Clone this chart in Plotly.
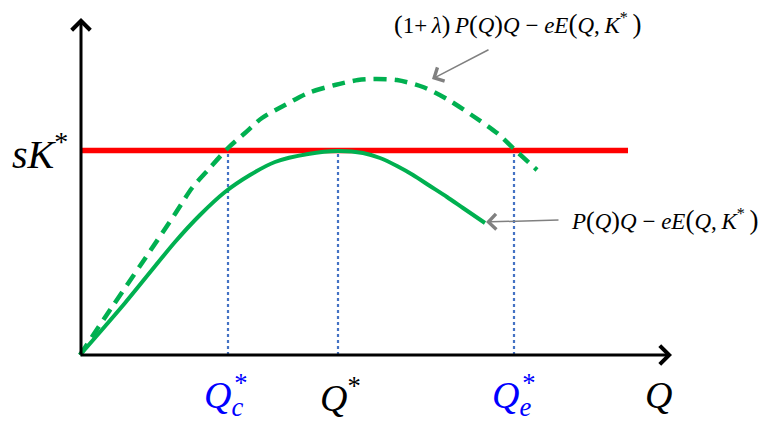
import plotly.graph_objects as go

# values (Q on the horizontal axis, profit on the vertical)
q_solid = [0, 0.45, 0.95, 1.20, 1.45, 1.70, 1.95, 2.28, 2.58, 2.83, 3.00, 3.17, 3.33, 3.50, 3.67, 3.83, 4.05]
v_solid = [0, 0.52, 1.13, 1.40, 1.63, 1.80, 1.93, 2.01, 2.04, 2.02, 1.97, 1.89, 1.80, 1.69, 1.58, 1.47, 1.32]

q_dash = [0, 0.30, 0.62, 0.95, 1.12, 1.28, 1.48, 1.65, 1.82, 2.05, 2.28, 2.55, 2.78, 2.93, 3.17, 3.43, 3.67, 3.93, 4.17, 4.34, 4.57]
v_dash = [0, 0.45, 0.92, 1.41, 1.67, 1.85, 2.07, 2.22, 2.37, 2.50, 2.62, 2.70, 2.75, 2.76, 2.75, 2.68, 2.56, 2.39, 2.22, 2.06, 1.85]

sK = 2.045
red_q = [0, 5.48]

q_marks = [1.48, 2.58, 4.34]          # Q_c*, Q*, Q_e*
q_axis_end = 5.92
v_axis_end = 3.37

FONT = "Liberation Serif"
GREEN = "#00B050"
BLUE_DOT = "#4472C4"
TS = "\u2009"  # thin space, equation-style spacing

fig = go.Figure()

# dotted verticals
for q in q_marks:
    fig.add_trace(go.Scatter(x=[q, q], y=[0, sK], mode="lines",
                             line=dict(color=BLUE_DOT, width=2.2, dash="dot"),
                             showlegend=False, hoverinfo="skip"))

# sK* level
fig.add_trace(go.Scatter(x=red_q, y=[sK, sK], mode="lines",
                         line=dict(color="#FF0000", width=5.5),
                         showlegend=False, hoverinfo="skip"))

# (1+lambda) curve, dashed
fig.add_trace(go.Scatter(x=q_dash, y=v_dash, mode="lines",
                         line=dict(color=GREEN, width=4.5, dash="13px,8px", shape="spline", smoothing=0.8),
                         showlegend=False, hoverinfo="skip"))

# P(Q)Q - eE curve
fig.add_trace(go.Scatter(x=q_solid, y=v_solid, mode="lines",
                         line=dict(color=GREEN, width=4, shape="spline", smoothing=0.8),
                         showlegend=False, hoverinfo="skip"))


def par(c, size):
    return '<span style="font-size:%dpx">%s</span>' % (size, c)


ann = []
# axes with arrow heads
ann.append(dict(x=q_axis_end, y=0, ax=-0.01, ay=0, xref="x", yref="y", axref="x", ayref="y",
                text="", showarrow=True, arrowhead=4, arrowsize=1.2, arrowwidth=3, arrowcolor="black"))
ann.append(dict(x=0.01, y=v_axis_end, ax=0.01, ay=-0.01, xref="x", yref="y", axref="x", ayref="y",
                text="", showarrow=True, arrowhead=4, arrowsize=1.2, arrowwidth=3, arrowcolor="black"))

# gray pointer arrows
ann.append(dict(x=3.52, y=2.76, ax=4.10, ay=3.06, xref="x", yref="y", axref="x", ayref="y",
                text="", showarrow=True, arrowhead=4, arrowsize=2, arrowwidth=1.5, arrowcolor="#808080"))
ann.append(dict(x=4.06, y=1.33, ax=4.80, ay=1.35, xref="x", yref="y", axref="x", ayref="y",
                text="", showarrow=True, arrowhead=4, arrowsize=2, arrowwidth=1.5, arrowcolor="#808080"))

# formula labels
core = ("<i>P</i>" + par("(", 26) + "<i>Q</i>" + par(")", 26)
        + "<i>Q</i> − <i>eE</i>" + par("(", 27) + "<i>Q</i>," + TS + "<i>K</i><sup>*</sup>" + TS + par(")", 27))
f1 = par("(", 26) + "1+" + TS + "<i>λ</i>" + par(")", 26) + TS + core
ann.append(dict(x=4.37, y=3.31, xref="x", yref="y", showarrow=False,
                text=f1, font=dict(family=FONT, size=23, color="black")))
ann.append(dict(x=5.84, y=1.35, xref="x", yref="y", showarrow=False,
                text=core, font=dict(family=FONT, size=23, color="black")))

# sK*
ann.append(dict(x=-0.40, y=2.04, xref="x", yref="y", showarrow=False,
                text="<i>sK</i><sup>*</sup>", font=dict(family=FONT, size=40, color="black")))

# Q tick labels
pull = '<span style="letter-spacing:-9px">%s</span>'
ann.append(dict(x=1.46, y=-0.40, xref="x", yref="y", showarrow=False,
                text="<i>Q</i><sub><i>" + pull % "c" + "</i></sub><sup>*</sup>",
                font=dict(family=FONT, size=38, color="#0000FF")))
ann.append(dict(x=2.60, y=-0.40, xref="x", yref="y", showarrow=False,
                text="<i>Q</i><sup>*</sup>", font=dict(family=FONT, size=38, color="black")))
ann.append(dict(x=4.34, y=-0.40, xref="x", yref="y", showarrow=False,
                text="<i>Q</i><sub><i>" + pull % "e" + "</i></sub><sup>*</sup>",
                font=dict(family=FONT, size=38, color="#0000FF")))
ann.append(dict(x=5.78, y=-0.40, xref="x", yref="y", showarrow=False,
                text="<i>Q</i>", font=dict(family=FONT, size=38, color="black")))

# page body has an 8px margin, so the figure is 8px smaller than the window
fig.update_layout(
    width=762, height=420,
    margin=dict(l=0, r=0, t=0, b=0),
    paper_bgcolor="white", plot_bgcolor="white",
    xaxis=dict(range=[-0.72, 6.90], visible=False, fixedrange=True),
    yaxis=dict(range=[-0.73, 3.47], visible=False, fixedrange=True),
    annotations=ann,
    showlegend=False,
)

fig.write_html("out.html")
